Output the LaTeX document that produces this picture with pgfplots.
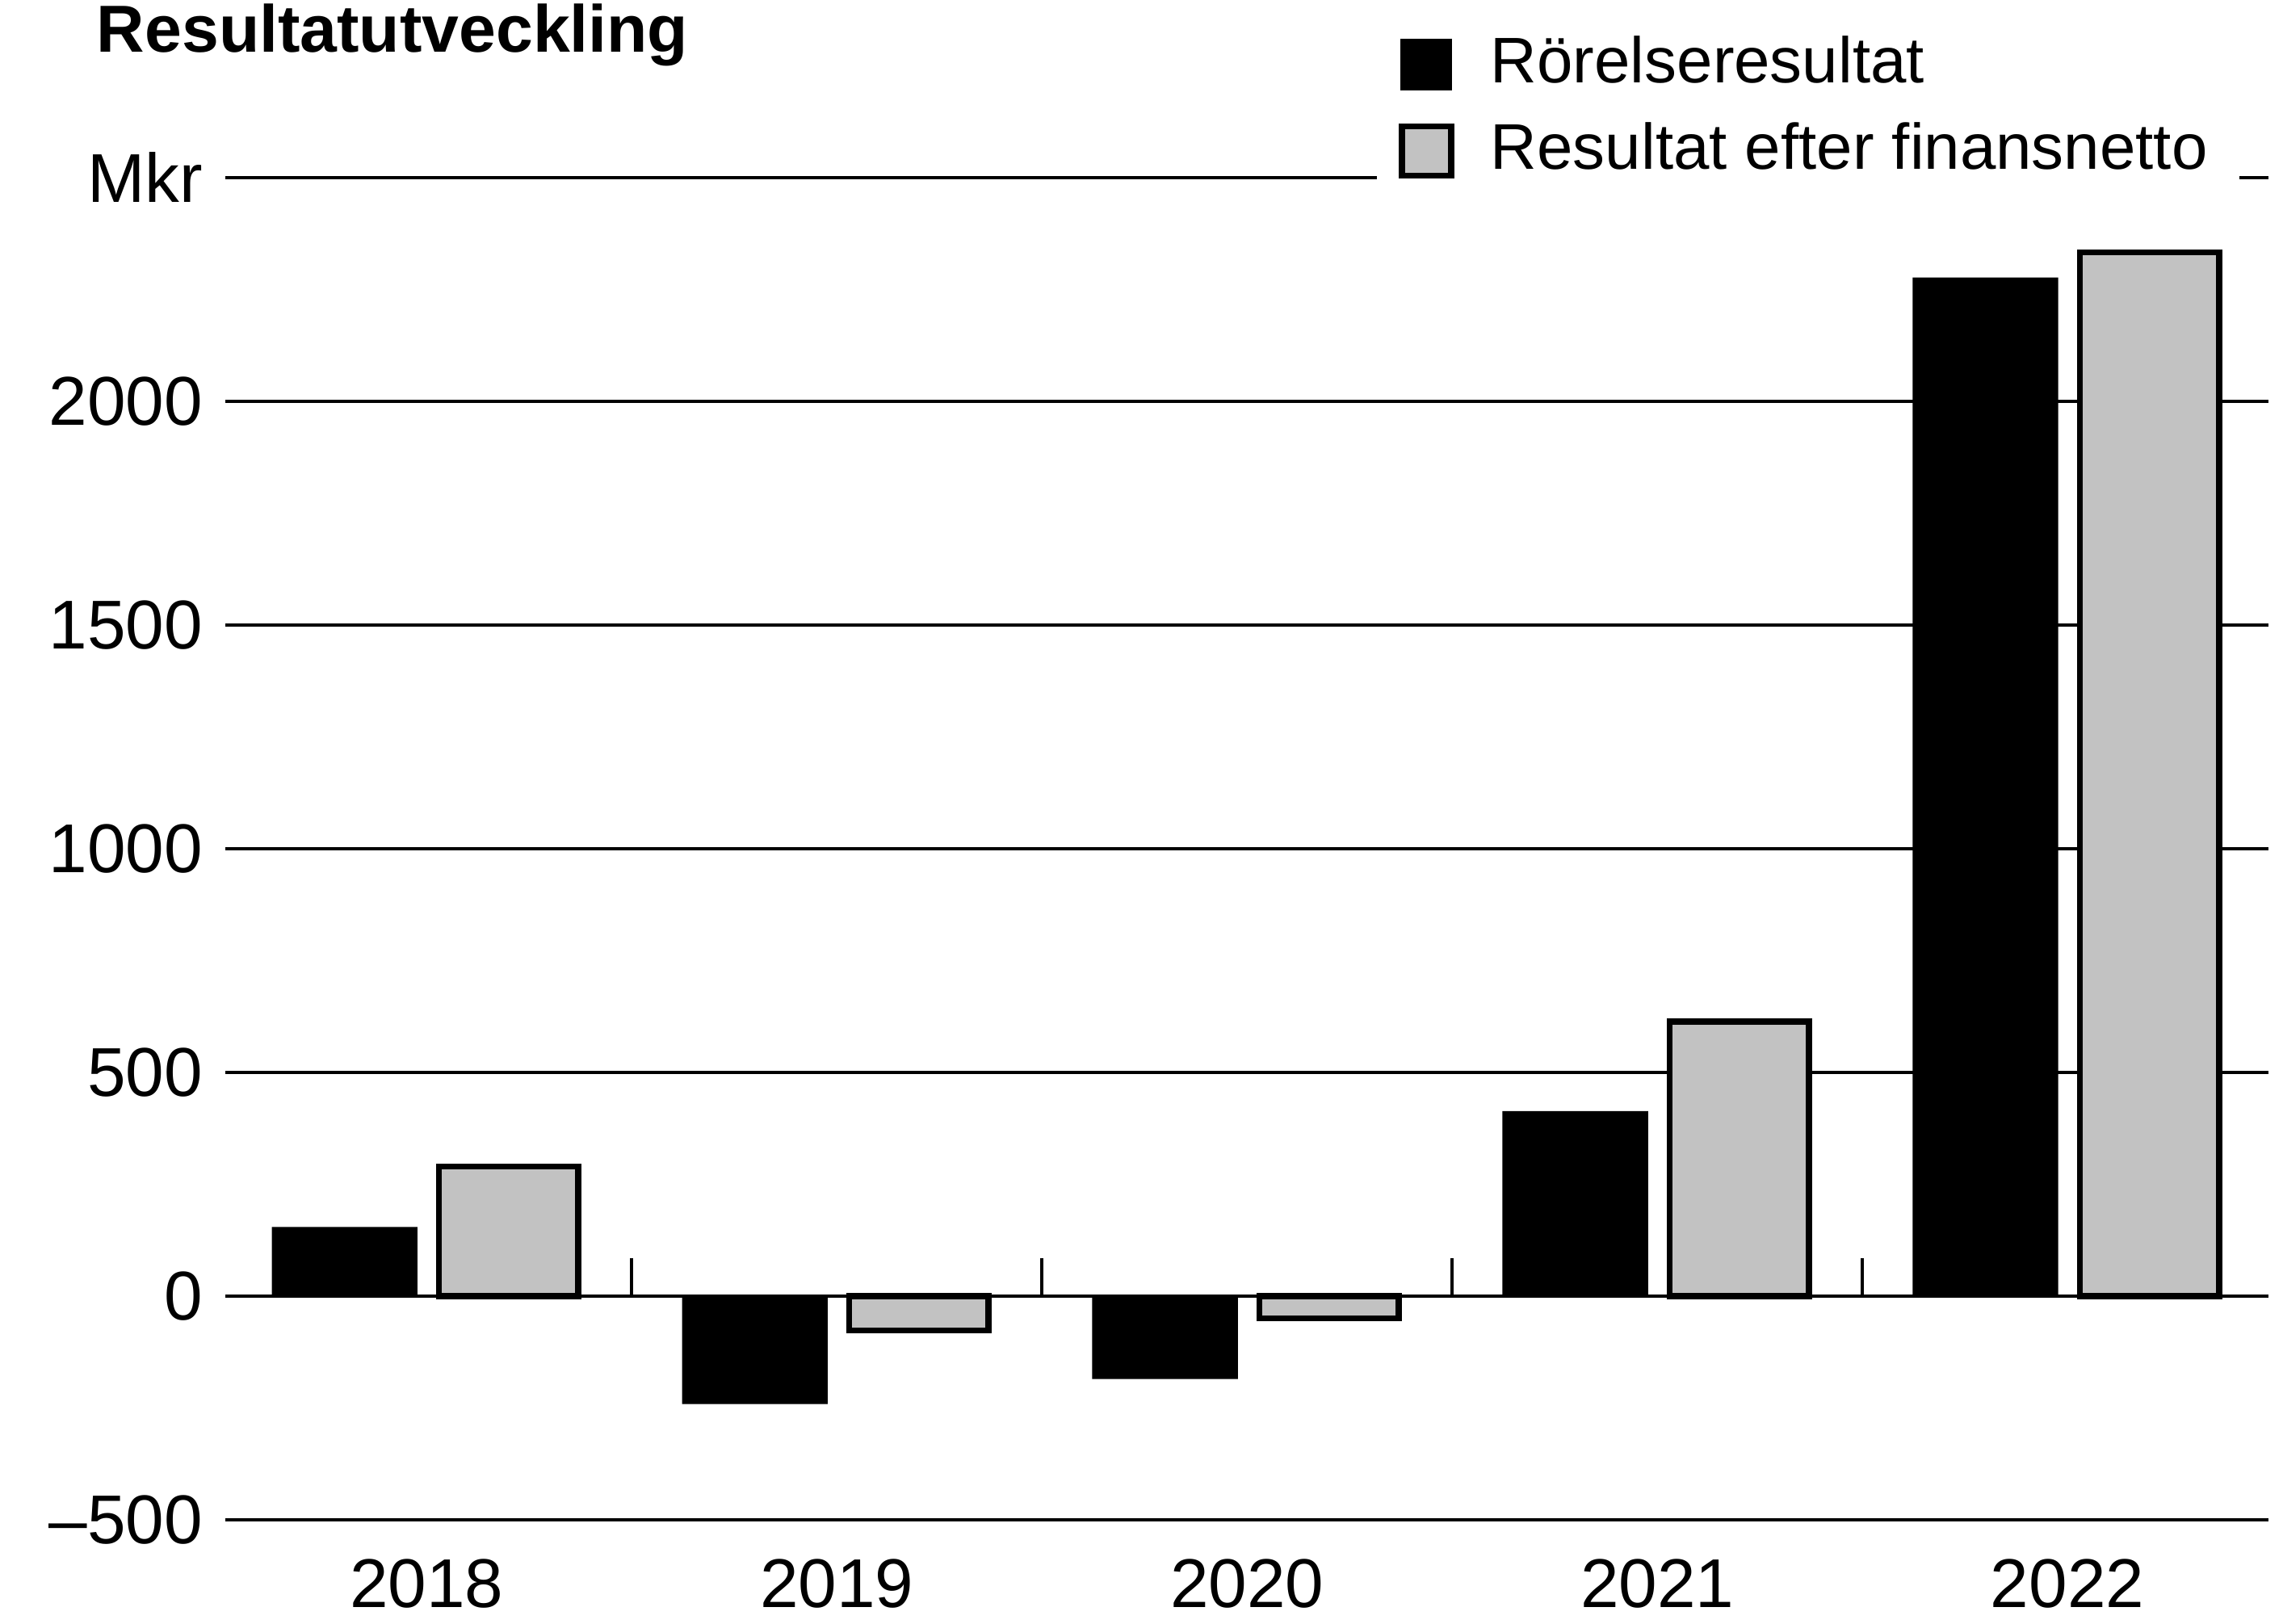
\documentclass[border=0pt]{standalone}
\usepackage{pgfplots}
\pgfplotsset{compat=1.18}
\usepackage{fontspec}
\setmainfont{Liberation Sans}
\begin{document}
\fontsize{13.5pt}{16pt}\selectfont
\begin{tikzpicture}[x=1cm,y=1cm]
\begin{axis}[
  at={(1.55cm,0.71cm)}, anchor=south west,
  width=14.03cm, height=9.22cm, scale only axis,
  xmin=-0.49, xmax=4.49, ymin=-500, ymax=2500,
  axis line style={draw=none},
  major tick length=0pt,
  tick style={draw=none},
  /pgf/number format/assume math mode=true,
  ytick={-500,0,500,1000,1500,2000,2500},
  yticklabels={–500,0,500,1000,1500,2000,Mkr},
  xtick={0,1,2,3,4},
  xticklabels={2018,2019,2020,2021,2022},
  yticklabel style={anchor=east, inner sep=0pt, xshift=-1.5mm, font=\fontsize{13.5pt}{16pt}\selectfont},
  xticklabel style={anchor=north, inner sep=0pt, yshift=-2.6mm, font=\fontsize{13.5pt}{16pt}\selectfont},
  ymajorgrids,
  grid style={black, line width=0.6pt},
  legend image code/.code={\draw[#1] (0cm,-0.17cm) rectangle (0.34cm,0.17cm);},
  legend style={at={(0.563,1.13)}, anchor=north west, fill=white, draw=none,
    inner sep=1.5mm, row sep=0.6mm, column sep=1.8mm,
    font=\fontsize{12.6pt}{15pt}\selectfont},
  legend cell align=left,
]
\addplot[ybar, bar width=0.355, bar shift=-0.2, fill=black, draw=none]
  coordinates {(0,155) (1,-241) (2,-185) (3,414) (4,2277)};
\addlegendentry{Rörelseresultat}
\addplot[ybar, bar width=0.34, bar shift=0.2, fill=black!24, draw=black, line width=1.2pt]
  coordinates {(0,290) (1,-76) (2,-49) (3,614) (4,2333)};
\addlegendentry{Resultat efter finansnetto}
\addplot[ycomb, black, line width=0.6pt, no markers, forget plot]
  coordinates {(0.5,85) (1.5,85) (2.5,85) (3.5,85)};
\end{axis}
\node[anchor=base west, font=\bfseries\fontsize{13pt}{16pt}\selectfont] at (0.5,10.79) {Resultatutveckling};
\pgfresetboundingbox
\useasboundingbox (0,0) rectangle (15.68,11.15);
\end{tikzpicture}
\end{document}
